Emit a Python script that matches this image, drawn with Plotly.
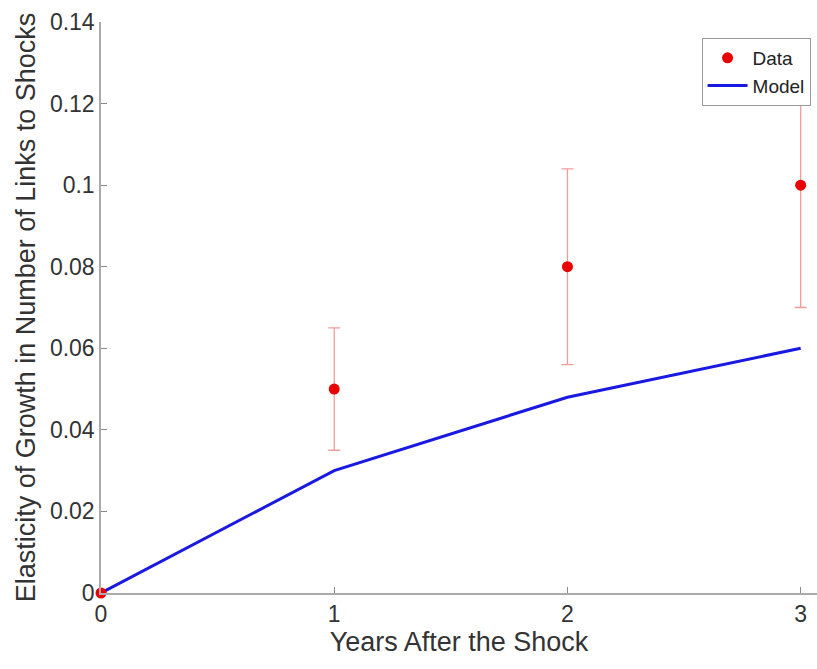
import plotly.graph_objects as go

years = [0, 1, 2, 3]
data_vals = [0.0, 0.05, 0.08, 0.10]
data_err = [0.0, 0.015, 0.024, 0.03]
model_vals = [0.0, 0.03, 0.048, 0.06]
y_ticks = [0, 0.02, 0.04, 0.06, 0.08, 0.1, 0.12, 0.14]
y_tick_text = ["0", "0.02", "0.04", "0.06", "0.08", "0.1", "0.12", "0.14"]
x_ticks = [0, 1, 2, 3]

fig = go.Figure()
fig.add_trace(go.Scatter(
    x=years, y=model_vals, mode="lines", name="Model", cliponaxis=False,
    line=dict(color="rgb(25,25,225)", width=3),
))
fig.add_trace(go.Scatter(
    x=years, y=data_vals, mode="markers", name="Data", cliponaxis=False,
    marker=dict(color="rgb(235,0,0)", size=11),
    error_y=dict(type="data", array=data_err, visible=True,
                 color="rgba(235,90,90,0.6)", thickness=1.3, width=6),
))

font_family = "Liberation Sans, Arial, Helvetica, sans-serif"
fig.update_layout(
    width=817, height=669,
    margin=dict(l=101, r=0, t=22, b=76),
    paper_bgcolor="white", plot_bgcolor="white",
    font=dict(family=font_family, size=23, color="#333333"),
    showlegend=True,
    legend=dict(
        x=0.991, y=0.972, xanchor="right", yanchor="top",
        bgcolor="white", bordercolor="#999999", borderwidth=1,
        font=dict(size=19, color="#222222"),
        tracegroupgap=0, itemwidth=40, traceorder="reversed",
    ),
    xaxis=dict(
        range=[0, 3.07], tickvals=x_ticks, showgrid=False, zeroline=False,
        showline=True, linecolor="#aaaaaa", linewidth=1.5,
        ticks="inside", ticklen=6, tickcolor="#888888",
        title=dict(text="Years After the Shock", font=dict(size=27, color="#333333"), standoff=4),
    ),
    yaxis=dict(
        range=[0, 0.14], tickvals=y_ticks, ticktext=y_tick_text,
        showgrid=False, zeroline=False,
        showline=True, linecolor="#aaaaaa", linewidth=1.5,
        ticks="inside", ticklen=6, tickcolor="#888888",
        title=dict(text="Elasticity of Growth in Number of Links to Shocks",
                   font=dict(size=27, color="#333333"), standoff=6),
    ),
)
fig.write_html("out.html")
